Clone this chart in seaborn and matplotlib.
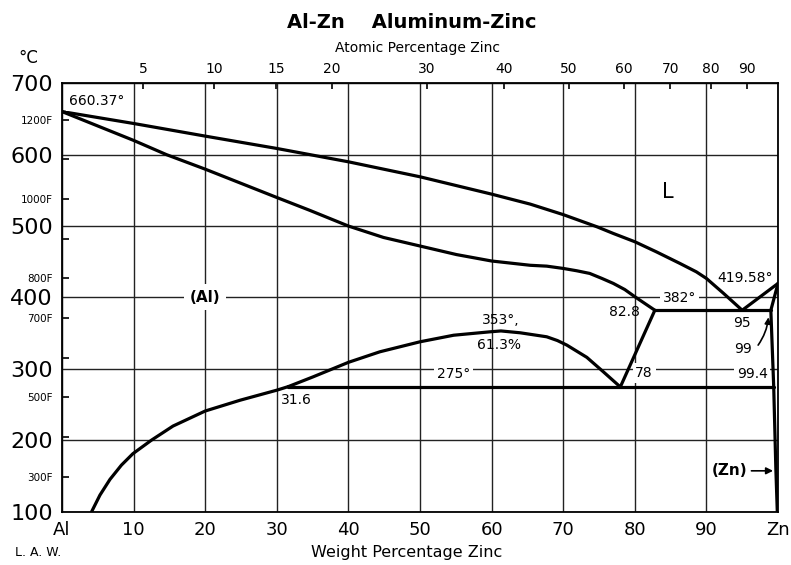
import numpy as np
import matplotlib
matplotlib.use("Agg")
import matplotlib.pyplot as plt
import seaborn as sns

sns.set_style("white")
plt.rcParams['font.family'] = ['DejaVu Sans']
for k in ['text.color', 'axes.labelcolor', 'xtick.color', 'ytick.color']:
    plt.rcParams[k] = 'black'

# ---------------- data (wt% Zn, temperature in C) ----------------
liq_wt = [0, 10, 20, 30, 40, 50, 60, 65.4, 70, 74.7, 77, 80, 83, 86.3, 88.6, 90, 92.4, 95]
liq_T = [660.37, 643.7, 626, 608.7, 590, 569, 544.7, 530.7, 516, 499, 489.6, 478, 463.9, 447.6,
         435.8, 426.6, 405.6, 382]
liqzn_wt = [95, 100]
liqzn_T = [382, 419.58]
sol_wt = [0, 10, 14.6, 20, 30, 34.6, 40, 44.9, 50, 55.1, 60, 65.4, 67.7, 70, 71.9, 73.7, 75.4,
          77, 78.6, 80, 81.4, 82.8]
sol_T = [660.37, 620, 600, 579.7, 540, 522, 500, 484, 472, 460, 451, 445, 443.8, 440.6, 437.3,
         433.6, 426.6, 419.6, 411, 401, 391.5, 382]
solv_wt = [4.15, 5.3, 6.7, 8.3, 9.9, 12.5, 15.5, 20, 24.9, 30, 31.6]
solv_T = [100, 123, 145, 165, 181, 200, 219.7, 240.8, 256, 270, 275]
gap_wt = [31.6, 35.1, 40, 44.4, 50, 54.7, 59.8, 61.3, 64, 67.7, 69.2, 70.5, 73.3, 75.6, 77.7, 78]
gap_T = [275, 288.8, 309, 323.8, 337.8, 347, 351.8, 353, 350.4, 344.8, 339.5, 333.2, 316, 295.8,
         277, 275]
edge_wt = [78, 82.8]
edge_T = [275, 382]
eut_wt = [82.8, 99]
eut_T = [382, 382]
eutd_wt = [31.6, 99.4]
eutd_T = [275, 275]
zn_wt = [100, 99, 99.4, 99.7, 99.9]
zn_T = [419.58, 382, 275, 160, 100]

x_ticks = [0, 10, 20, 30, 40, 50, 60, 70, 80, 90, 100]
x_labels = ["Al", "10", "20", "30", "40", "50", "60", "70", "80", "90", "Zn"]
y_ticks = [100, 200, 300, 400, 500, 600, 700]
at_ticks = [5, 10, 15, 20, 30, 40, 50, 60, 70, 80, 90]
f_ticks = [300, 400, 500, 600, 700, 800, 900, 1000, 1100, 1200]
f_labeled = [300, 500, 700, 800, 1000, 1200]

M_ZN, M_AL = 65.38, 26.98


def wt2at(w):
    w = np.clip(np.asarray(w, dtype=float), 0, 100)
    a = w / M_ZN
    b = (100 - w) / M_AL
    return 100 * a / (a + b)


def at2wt(a):
    a = np.clip(np.asarray(a, dtype=float), 0, 100)
    z = a * M_ZN
    l = (100 - a) * M_AL
    return 100 * z / (z + l)


def c2f(c):
    return np.asarray(c, dtype=float) * 9 / 5 + 32


def f2c(f):
    return (np.asarray(f, dtype=float) - 32) * 5 / 9


# ---------------- figure ----------------
W, H = 791, 565
fig = plt.figure(figsize=(W / 100, H / 100), dpi=100)
L, R, T, B = 62, 778, 83.3, 511.5
ax = fig.add_axes([L / W, 1 - B / H, (R - L) / W, (B - T) / H])
ax.set_xlim(0, 100)
ax.set_ylim(100, 700)

ax.set_xticks(x_ticks)
ax.set_xticklabels(x_labels)
ax.set_yticks(y_ticks)
ax.tick_params(axis='x', length=0, pad=7, labelsize=13)
ax.tick_params(axis='y', length=0, pad=6.5, labelsize=16)
ax.grid(True, color='#222222', lw=1.0)
ax.set_axisbelow(True)
for s in ax.spines.values():
    s.set_color('black')
    s.set_linewidth(1.3)

lw = 2.3
for xs, ys in [(liq_wt, liq_T), (liqzn_wt, liqzn_T), (sol_wt, sol_T), (solv_wt, solv_T),
               (gap_wt, gap_T), (edge_wt, edge_T), (eut_wt, eut_T), (eutd_wt, eutd_T),
               (zn_wt, zn_T)]:
    sns.lineplot(x=xs, y=ys, ax=ax, color='black', lw=lw, sort=False, estimator=None,
                 zorder=5)

# secondary axes
top = ax.secondary_xaxis('top', functions=(wt2at, at2wt))
top.set_xticks(at_ticks)
top.set_xticklabels([str(t) for t in at_ticks])
top.tick_params(direction='in', length=4, width=1.2, pad=5, labelsize=10)

lf = ax.secondary_yaxis('left', functions=(c2f, f2c))
lf.set_yticks(f_ticks)
lf.set_yticklabels([f"{t}F" if t in f_labeled else "" for t in f_ticks])
lf.tick_params(direction='in', length=5, width=1.2, pad=6.5, labelsize=7.5)

# ---------------- annotations ----------------
wb = dict(fc='white', ec='none', pad=2)
ax.text(1.0, 675, "660.37°", fontsize=10, ha='left', va='center', bbox=wb, zorder=6)
ax.text(84.6, 547, "L", fontsize=15, ha='center', va='center')
ax.text(95.4, 427.5, "419.58°", fontsize=10, ha='center', va='center', zorder=6)
ax.text(86.3, 399, "382°", fontsize=10, ha='center', va='center', bbox=wb, zorder=4)
ax.text(78.5, 379, "82.8", fontsize=10, ha='center', va='center', zorder=6)
ax.text(94.9, 364, "95", fontsize=10, ha='center', va='center', zorder=6)
ax.text(95.1, 327, "99", fontsize=10, ha='center', va='center', zorder=6)
ax.text(96.4, 293, "99.4", fontsize=10, ha='center', va='center', bbox=wb, zorder=4)
ax.text(81.3, 294, "78", fontsize=10, ha='center', va='center', bbox=wb, zorder=4)
ax.text(54.7, 293, "275°", fontsize=10, ha='center', va='center', bbox=wb, zorder=4)
ax.text(32.7, 256, "31.6", fontsize=10, ha='center', va='center', zorder=6)
ax.text(61.3, 369, "353°,", fontsize=10, ha='center', va='center', zorder=6)
ax.text(61.0, 333, "61.3%", fontsize=10, ha='center', va='center', zorder=6)
ax.text(20.0, 400, "(Al)", fontsize=11, fontweight='bold', ha='center', va='center',
        bbox=dict(fc='white', ec='none', pad=4), zorder=4)
ax.text(93.3, 157, "(Zn)", fontsize=11, fontweight='bold', ha='center', va='center', zorder=6)
ax.annotate("", xy=(99.7, 157), xytext=(95.9, 157),
            arrowprops=dict(arrowstyle='-|>', color='black', lw=1.2, mutation_scale=10),
            zorder=6)
ax.annotate("", xy=(98.7, 376), xytext=(97.0, 330),
            arrowprops=dict(arrowstyle='-|>', color='black', lw=1.2, mutation_scale=9,
                            connectionstyle='arc3,rad=0.15'), zorder=6)

# ---------------- figure texts ----------------
fig.text(412 / W, 1 - 23 / H, "Al-Zn    Aluminum-Zinc", fontsize=14, fontweight='bold',
         ha='center', va='center')
fig.text(418 / W, 1 - 48 / H, "Atomic Percentage Zinc", fontsize=10, ha='center', va='center')
fig.text(407 / W, 1 - 553 / H, "Weight Percentage Zinc", fontsize=11.5, ha='center', va='center')
fig.text(15 / W, 1 - 553 / H, "L. A. W.", fontsize=9, ha='left', va='center')
fig.text(28 / W, 1 - 58 / H, "°C", fontsize=12, ha='center', va='center')

fig.savefig("out.png", dpi=100)
